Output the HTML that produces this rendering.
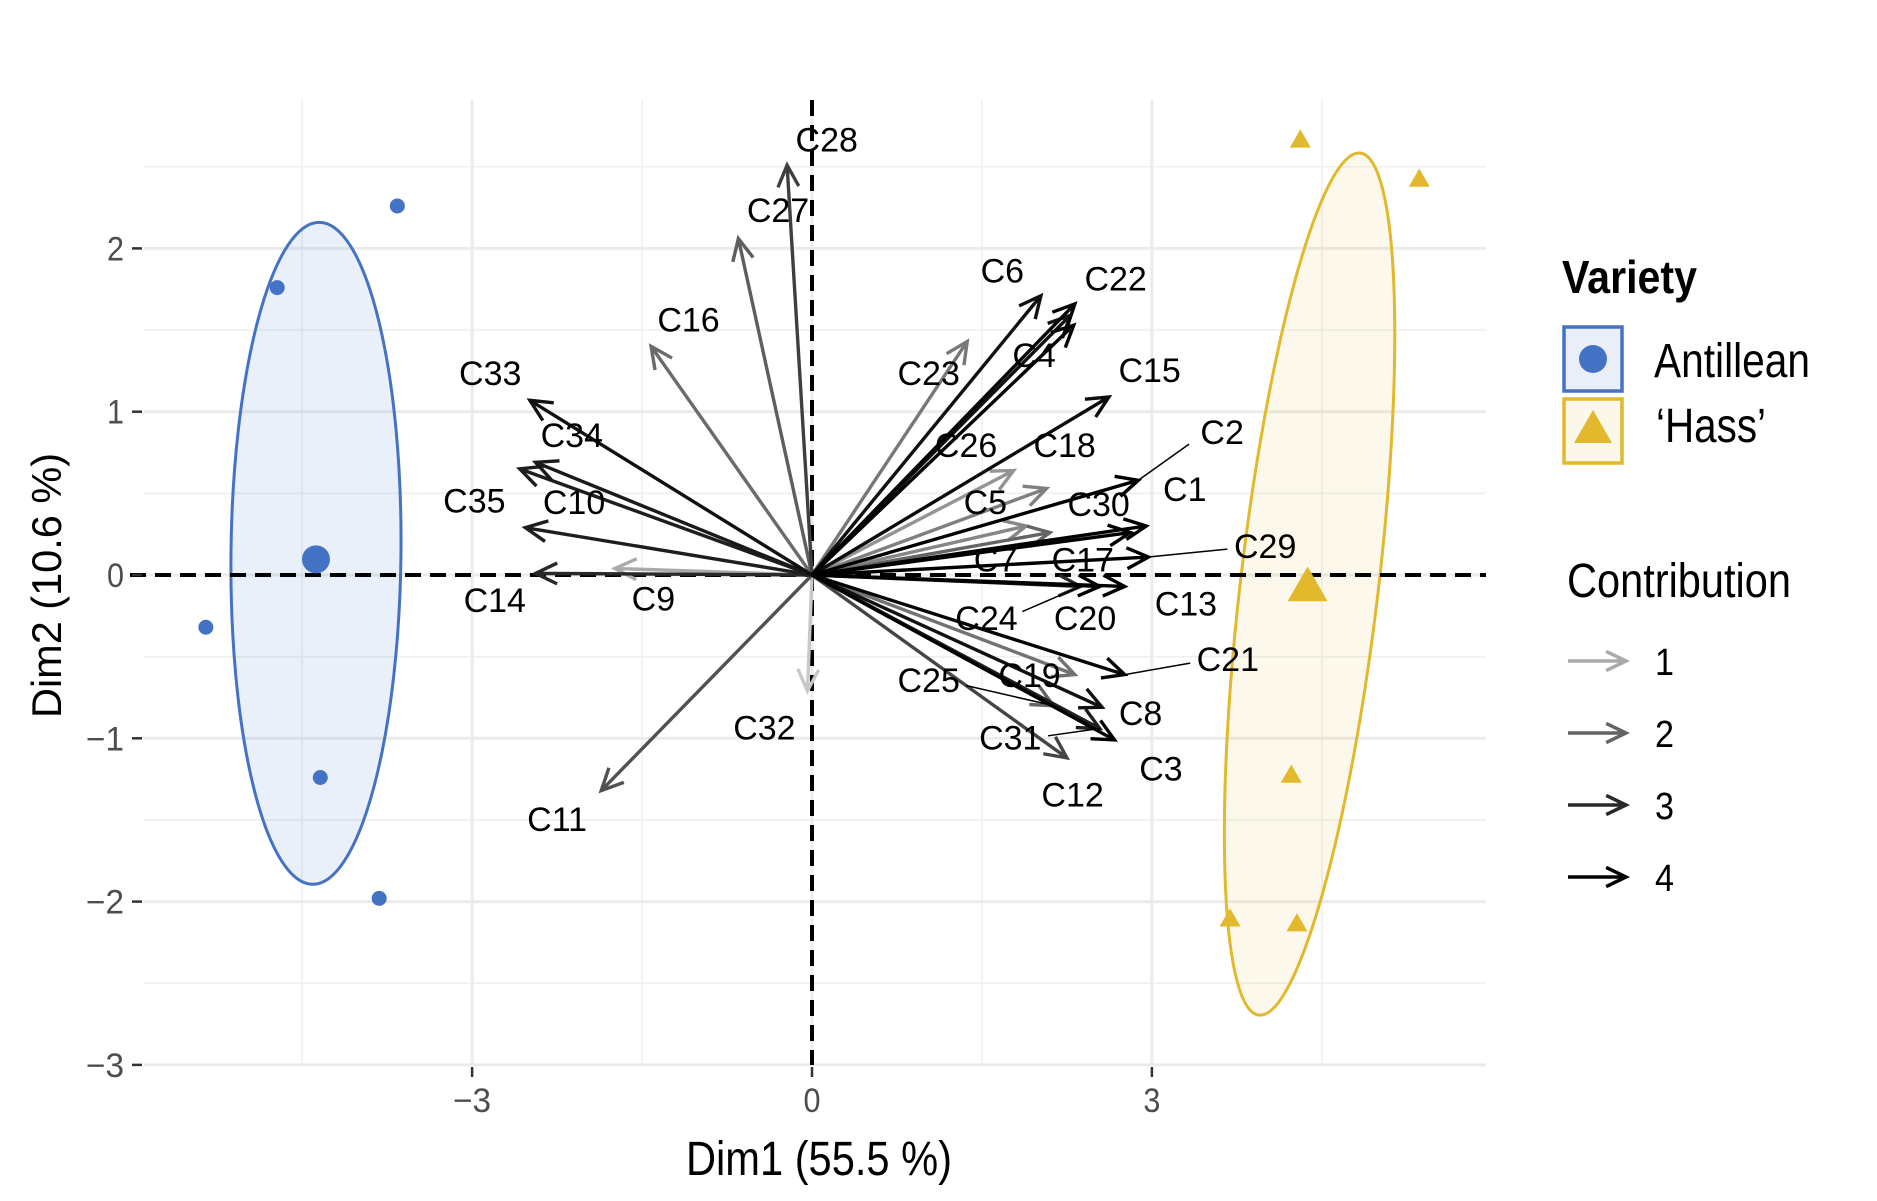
<!DOCTYPE html>
<html><head><meta charset="utf-8"><style>
html,body{margin:0;padding:0;background:#fff;}
svg{display:block;font-family:"Liberation Sans",Arial,sans-serif;}
</style></head><body>
<svg id="chart" width="1877" height="1201" viewBox="0 0 1877 1201" xmlns="http://www.w3.org/2000/svg">
<g id="grid"></g>
<g id="ellipses"></g>
<g id="refs"></g>
<g id="arrows"></g>
<g id="labels"></g>
<g id="points"></g>
<g id="axes"></g>
<g id="legend"></g>
</svg>
<script>
// ---- data ----
const varNames = ["C28","C27","C16","C33","C34","C35","C10","C14","C9","C11","C32","C6","C22","C4","C26","C23","C15","C5","C18","C2","C1","C30","C29","C17","C7","C13","C20","C24","C21","C19","C8","C3","C25","C31","C12"];
const varX = [-0.22,-0.65,-1.42,-2.49,-2.44,-2.58,-2.53,-2.44,-1.74,-1.86,-0.04,2.02,2.32,2.31,2.28,1.37,2.62,1.78,2.07,2.88,2.95,2.81,2.97,2.10,1.89,2.76,2.54,2.37,2.76,2.32,2.56,2.67,2.13,2.54,2.25];
const varY = [2.51,2.06,1.40,1.07,0.69,0.65,0.29,0.01,0.04,-1.32,-0.71,1.71,1.66,1.53,1.59,1.43,1.09,0.64,0.53,0.58,0.30,0.26,0.11,0.26,0.30,-0.07,-0.07,-0.07,-0.61,-0.61,-0.81,-1.01,-0.80,-0.94,-1.12];
const varContrib = [2.6,2.1,1.9,3.5,3.3,3.2,3.2,3.0,1.0,2.3,0.6,3.5,3.8,3.8,3.5,1.7,3.6,1.3,1.6,4,4,4,4,2.0,1.5,4,4,3,3.8,1.8,3.5,4,2,3.2,2.5];
const labelX = [0.13,-0.30,-1.09,-2.84,-2.12,-2.98,-2.10,-2.80,-1.40,-2.25,-0.42,1.68,2.68,1.96,1.36,1.03,2.98,1.53,2.23,3.62,3.29,2.53,4.00,2.39,1.62,3.30,2.41,1.54,3.67,1.92,2.90,3.08,1.03,1.75,2.30];
const labelY = [2.66,2.23,1.56,1.23,0.85,0.45,0.44,-0.16,-0.15,-1.50,-0.94,1.86,1.81,1.34,0.79,1.23,1.25,0.44,0.79,0.87,0.52,0.43,0.17,0.09,0.09,-0.18,-0.27,-0.27,-0.52,-0.62,-0.85,-1.19,-0.65,-1.00,-1.35];
const leaderNames = ["C2","C29","C24","C21","C25","C31"];
const antX = [-3.66,-4.72,-5.35,-4.34,-3.82];
const antY = [2.26,1.76,-0.32,-1.24,-1.98];
const hassX = [4.31,5.36,4.23,3.69,4.28];
const hassY = [2.66,2.42,-1.23,-2.11,-2.14];
const xTicks = [-3,0,3];
const yTicks = [-3,-2,-1,0,1,2];
const xMinor = [-4.5,-1.5,1.5,4.5];
const yMinor = [-2.5,-1.5,-0.5,0.5,1.5,2.5];
const legendContrib = [1,2,3,4];

// ---- scales ----
const X0=812, XS=113.3, Y0=575, YS=163.3;
const PL=144, PR=1486, PT=100, PB=1065;
const X = v => X0 + XS*v;
const Y = v => Y0 - YS*v;
const NS="http://www.w3.org/2000/svg";
function mk(tag, attrs, parent){const e=document.createElementNS(NS,tag);for(const k in attrs)e.setAttribute(k,attrs[k]);if(parent)parent.appendChild(e);return e;}
const gGrid=document.getElementById('grid'),gEll=document.getElementById('ellipses'),gRef=document.getElementById('refs'),gArr=document.getElementById('arrows'),gLab=document.getElementById('labels'),gPts=document.getElementById('points'),gAx=document.getElementById('axes'),gLeg=document.getElementById('legend');
const BLUE="#4472c4", GOLD="#e2b92c";
function grayFor(c){const t=Math.max(0,Math.min(1,(c-1)/3));const base=c<1?200:170;const v=Math.round(base*Math.pow(1-t,1.3));return `rgb(${v},${v},${v})`;}

// grid
xMinor.forEach(v=>{const l=mk('line',{x1:X(v),x2:X(v),y1:PT,y2:PB,stroke:'#efefef','stroke-width':1.6},gGrid);

});
yMinor.forEach(v=>{const l=mk('line',{x1:PL,x2:PR,y1:Y(v),y2:Y(v),stroke:'#efefef','stroke-width':1.6},gGrid);

});
xTicks.forEach(v=>{const l=mk('line',{x1:X(v),x2:X(v),y1:PT,y2:PB,stroke:'#ebebeb','stroke-width':3},gGrid);

});
yTicks.forEach(v=>{const l=mk('line',{x1:PL,x2:PR,y1:Y(v),y2:Y(v),stroke:'#ebebeb','stroke-width':3},gGrid);

});

const mean=a=>a.reduce((s,v)=>s+v,0)/a.length;
const antMX=mean(antX), antMY=mean(antY), hassMX=mean(hassX), hassMY=mean(hassY);

// ellipses
let e1=mk('ellipse',{cx:0,cy:0,rx:85,ry:331,fill:BLUE,'fill-opacity':0.11,stroke:BLUE,'stroke-width':3,transform:`translate(${X(antMX)},${Y(antMY)-6}) rotate(0.6)`},gEll);


let e2=mk('ellipse',{cx:0,cy:0,rx:69,ry:434,fill:GOLD,'fill-opacity':0.09,stroke:GOLD,'stroke-width':3,transform:`translate(${X(hassMX)+2},${Y(hassMY)-4}) rotate(6.7)`},gEll);



// dashed reference lines
let r1=mk('line',{x1:PL-14,x2:PR,y1:Y(0),y2:Y(0),stroke:'#000','stroke-width':4,'stroke-dasharray':'16 9'},gRef);


let r2=mk('line',{x1:X(0),x2:X(0),y1:PT,y2:PB,stroke:'#000','stroke-width':4,'stroke-dasharray':'16 9'},gRef);



// arrows
function arrowHead(x1,y1,x2,y2,len){const a=Math.atan2(y2-y1,x2-x1);const s=Math.PI/7;
return `M${x2-len*Math.cos(a-s)},${y2-len*Math.sin(a-s)} L${x2},${y2} L${x2-len*Math.cos(a+s)},${y2-len*Math.sin(a+s)}`;}
const order=varNames.map((n,i)=>i).sort((a,b)=>varContrib[a]-varContrib[b]);
order.forEach(i=>{
  const x1=X(0),y1=Y(0),x2=X(varX[i]),y2=Y(varY[i]);const col=grayFor(varContrib[i]);
  const g=mk('g',{},gArr);
  
  
  mk('path',{d:`M${x1},${y1} L${x2},${y2} `+arrowHead(x1,y1,x2,y2,24),fill:'none',stroke:col,'stroke-width':3.4,'stroke-linejoin':'miter'},g);
});
// labels & leaders
varNames.forEach((n,i)=>{
  const lx=X(labelX[i]),ly=Y(labelY[i]);
  if(leaderNames.includes(n)){
    const tx=X(varX[i]),ty=Y(varY[i]);const dx=tx-lx,dy=ty-ly;const d=Math.hypot(dx,dy);const off=Math.min(d-4,38);
    const ll=mk('line',{x1:lx+dx/d*off,y1:ly+dy/d*off*0.6,x2:tx,y2:ty,stroke:'#000','stroke-width':1.5},gLab);
    
    
  }
  const t=mk('text',{x:lx,y:ly+11,'font-size':34,'text-anchor':'middle',fill:'#000'},gLab);
  
  
  t.textContent=n;
});

// points
antX.forEach((v,i)=>{const c=mk('circle',{cx:X(v),cy:Y(antY[i]),r:7.5,fill:BLUE},gPts);

});
let am=mk('circle',{cx:X(antMX),cy:Y(antMY),r:14,fill:BLUE},gPts);


function tri(cx,cy,s){const h=s*0.87;return `${cx},${cy-h*0.62} ${cx+s/2},${cy+h*0.38} ${cx-s/2},${cy+h*0.38}`;}
hassX.forEach((v,i)=>{const p=mk('polygon',{points:tri(X(v),Y(hassY[i]),21),fill:GOLD},gPts);

});
let hm=mk('polygon',{points:tri(X(hassMX),Y(hassMY),40),fill:GOLD},gPts);



// axes
yTicks.forEach(v=>{
  const tk=mk('line',{x1:PL-12,x2:PL-2,y1:Y(v),y2:Y(v),stroke:'#333','stroke-width':2.5},gAx);
  
  
  const t=mk('text',{x:PL-20,y:Y(v)+12,'font-size':34,'text-anchor':'end',fill:'#4d4d4d',textLength:v<0?38:17,lengthAdjust:'spacingAndGlyphs'},gAx);
  
  
  t.textContent=v<0?'\u2212'+Math.abs(v):String(v);
});
xTicks.forEach(v=>{
  const tk=mk('line',{x1:X(v),x2:X(v),y1:PB+2,y2:PB+12,stroke:'#333','stroke-width':2.5},gAx);
  
  
  const t=mk('text',{x:X(v),y:PB+47,'font-size':34,'text-anchor':'middle',fill:'#4d4d4d',textLength:v<0?38:17,lengthAdjust:'spacingAndGlyphs'},gAx);
  
  
  t.textContent=v<0?'\u2212'+Math.abs(v):String(v);
});
let xt=mk('text',{x:686,y:1175,'font-size':48,textLength:266,lengthAdjust:'spacingAndGlyphs',fill:'#000'},gAx);


xt.textContent='Dim1 (55.5 %)';
let yt=mk('text',{x:0,y:0,'font-size':42,textLength:265,lengthAdjust:'spacingAndGlyphs',fill:'#000',transform:'translate(61,718) rotate(-90)'},gAx);


yt.textContent='Dim2 (10.6 %)';

// legend
let lt=mk('text',{x:1562,y:293,'font-size':46,'font-weight':'bold',textLength:135,lengthAdjust:'spacingAndGlyphs',fill:'#000'},gLeg);


lt.textContent='Variety';
let k1=mk('rect',{x:1564,y:327,width:58,height:64,fill:'#e9eef8',stroke:BLUE,'stroke-width':3.5},gLeg);


let k1c=mk('circle',{cx:1593,cy:359,r:14,fill:BLUE},gLeg);


let k2=mk('rect',{x:1564,y:399,width:58,height:64,fill:'#fcf8e9',stroke:GOLD,'stroke-width':3.5},gLeg);


let k2t=mk('polygon',{points:'1593,410 1612,443 1574,443',fill:GOLD},gLeg);


let la=mk('text',{x:1654,y:377,'font-size':48,textLength:156,lengthAdjust:'spacingAndGlyphs',fill:'#000'},gLeg);


la.textContent='Antillean';
let lh=mk('text',{x:1656,y:442,'font-size':48,textLength:110,lengthAdjust:'spacingAndGlyphs',fill:'#000'},gLeg);


lh.textContent='\u2018Hass\u2019';
let ct=mk('text',{x:1567,y:597,'font-size':48,textLength:224,lengthAdjust:'spacingAndGlyphs',fill:'#000'},gLeg);


ct.textContent='Contribution';
legendContrib.forEach((c,i)=>{
  const y=661+i*72;const col=grayFor(c);
  const a=mk('path',{d:`M1568,${y} L1626,${y} `+arrowHead(1568,y,1626,y,22),fill:'none',stroke:col,'stroke-width':3.5},gLeg);
  
  
  const t=mk('text',{x:1655,y:y+14,'font-size':38,textLength:19,lengthAdjust:'spacingAndGlyphs',fill:'#000'},gLeg);
  
  
  t.textContent=String(c);
});
</script>
</body></html>
